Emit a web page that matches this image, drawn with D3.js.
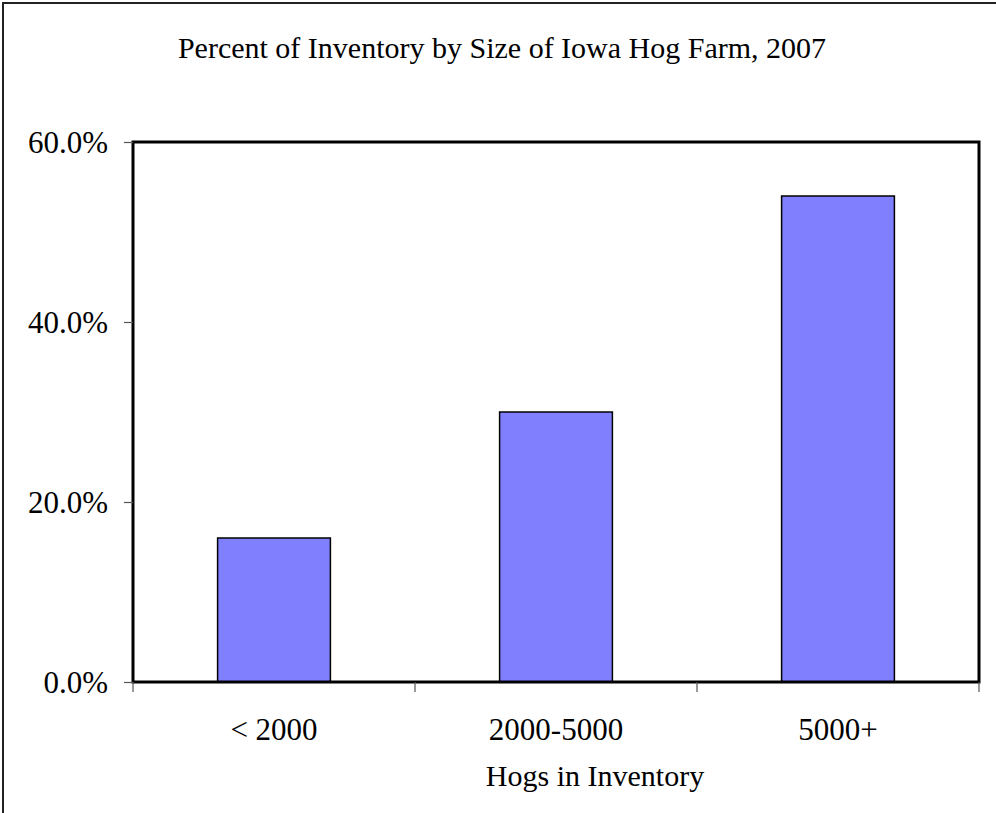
<!DOCTYPE html>
<html>
<head>
<meta charset="utf-8">
<script src="https://cdn.jsdelivr.net/npm/d3@7"></script>
<style>
  html, body { margin: 0; padding: 0; background: #fff; }
  svg { display: block; }
  text { font-family: "Liberation Serif", "Times New Roman", serif; fill: #000; }
</style>
</head>
<body>
<svg id="chart" width="996" height="813"></svg>
<script>
const categories = ["< 2000", "2000-5000", "5000+"];
const values = [16.0, 30.0, 54.0];
const yTicks = [0, 20, 40, 60];
const title = "Percent of Inventory by Size of Iowa Hog Farm, 2007";
const xTitle = "Hogs in Inventory";

const svg = d3.select("#chart");
const W = 996, H = 813;
const plot = { left: 133, right: 979, top: 142, bottom: 682 };

// outer frame (only top/left visible in view)
svg.append("rect")
  .attr("x", 3).attr("y", 3).attr("width", W + 20).attr("height", H + 20)
  .attr("fill", "#fff").attr("stroke", "#222").attr("stroke-width", 2);

const x = d3.scaleBand().domain(categories)
  .range([plot.left, plot.right]).paddingInner(0.6).paddingOuter(0.3);
const y = d3.scaleLinear().domain([0, 60]).range([plot.bottom, plot.top]);

// title
svg.append("text")
  .attr("x", 502).attr("y", 58)
  .attr("text-anchor", "middle")
  .style("font-size", "30px")
  .text(title);

// bars
svg.append("g").selectAll("rect")
  .data(values)
  .join("rect")
  .attr("x", (d, i) => x(categories[i]))
  .attr("y", d => y(d))
  .attr("width", x.bandwidth())
  .attr("height", d => y(0) - y(d))
  .attr("fill", "#8080FF")
  .attr("stroke", "#000")
  .attr("stroke-width", 1.5);

// plot frame
svg.append("rect")
  .attr("x", plot.left).attr("y", plot.top)
  .attr("width", plot.right - plot.left).attr("height", plot.bottom - plot.top)
  .attr("fill", "none").attr("stroke", "#000").attr("stroke-width", 3);

// y axis
const yAxis = d3.axisLeft(y).tickValues(yTicks).tickSize(9).tickPadding(16)
  .tickFormat(d => d3.format(".1f")(d) + "%");
const gy = svg.append("g").attr("transform", `translate(${plot.left},0)`).call(yAxis);
gy.select(".domain").remove();
gy.selectAll(".tick line").attr("stroke", "#555").attr("stroke-width", 1.2);
gy.selectAll(".tick text")
  .style("font-size", "31px")
  .style("font-family", '"Liberation Serif", "Times New Roman", serif')
  .attr("dy", "0.33em");

// x axis ticks at band boundaries
const boundaries = categories.map(c => x(c) - x.step() * x.paddingInner() / 2 - 0 );
const edges = [plot.left, ...categories.map((c, i) => plot.left + x.step() * (i + 1))];
svg.append("g").selectAll("line")
  .data(edges)
  .join("line")
  .attr("x1", d => d).attr("x2", d => d)
  .attr("y1", plot.bottom).attr("y2", plot.bottom + 10)
  .attr("stroke", "#555").attr("stroke-width", 1.2);

// x labels
svg.append("g").selectAll("text")
  .data(categories)
  .join("text")
  .attr("x", d => x(d) + x.bandwidth() / 2)
  .attr("y", 740)
  .attr("text-anchor", "middle")
  .style("font-size", "31px")
  .text(d => d);

// x title
svg.append("text")
  .attr("x", 595).attr("y", 786)
  .attr("text-anchor", "middle")
  .style("font-size", "30px")
  .text(xTitle);
</script>
</body>
</html>
